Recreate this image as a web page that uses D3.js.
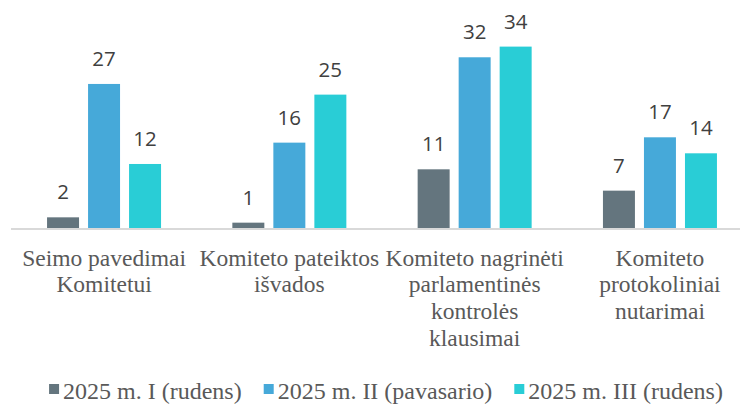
<!DOCTYPE html>
<html>
<head>
<meta charset="utf-8">
<script src="https://cdn.jsdelivr.net/npm/d3@7"></script>
<style>
  html, body { margin: 0; padding: 0; background: #fff; }
  svg { display: block; }
</style>
</head>
<body>
<svg id="chart" width="740" height="405"></svg>
<script>
const categories = [
  "Seimo pavedimai Komitetui",
  "Komiteto pateiktos išvados",
  "Komiteto nagrinėti parlamentinės kontrolės klausimai",
  "Komiteto protokoliniai nutarimai"
];
const categoryLines = [
  ["Seimo pavedimai", "Komitetui"],
  ["Komiteto pateiktos", "išvados"],
  ["Komiteto nagrinėti", "parlamentinės", "kontrolės", "klausimai"],
  ["Komiteto", "protokoliniai", "nutarimai"]
];
const seriesNames = ["2025 m. I (rudens)", "2025 m. II (pavasario)", "2025 m. III (rudens)"];
const seriesI   = [2, 1, 11, 7];
const seriesII  = [27, 16, 32, 17];
const seriesIII = [12, 25, 34, 14];
const seriesValues = [seriesI, seriesII, seriesIII];
const colors = ["#64757e", "#46a9d9", "#29cdd6"];

const svg = d3.select("#chart");

const baseY = 228;
const y = d3.scaleLinear().domain([0, 35]).range([baseY, baseY - 35 * 5.335]);
const x0 = d3.scaleBand().domain(categories).range([11.4, 752.6]).padding(0);
const groupW = 114;
const x1 = d3.scaleBand().domain(seriesNames).range([0, groupW]).paddingInner(0.22).paddingOuter(0);
const offset = (x0.bandwidth() - groupW) / 2;

// axis line
svg.append("line")
  .attr("x1", 11).attr("x2", 740)
  .attr("y1", baseY + 1).attr("y2", baseY + 1)
  .attr("stroke", "#d9d9d9").attr("stroke-width", 2);

const groups = svg.selectAll("g.grp")
  .data(categories)
  .enter().append("g")
  .attr("class", "grp")
  .attr("transform", d => `translate(${x0(d) + offset},0)`);

groups.each(function(cat, ci) {
  const g = d3.select(this);
  seriesNames.forEach((s, si) => {
    const v = seriesValues[si][ci];
    g.append("rect")
      .attr("x", x1(s))
      .attr("y", y(v))
      .attr("width", x1.bandwidth())
      .attr("height", y(0) - y(v))
      .attr("fill", colors[si]);
    g.append("text")
      .attr("x", x1(s) + x1.bandwidth() / 2)
      .attr("y", y(v) - 18)
      .attr("text-anchor", "middle")
      .attr("font-family", "'Open Sans', sans-serif")
      .attr("font-size", "20.5px")
      .attr("fill", "#404040")
      .text(v);
  });
});

// category labels
categories.forEach((cat, ci) => {
  const cx = x0(cat) + x0.bandwidth() / 2;
  const t = svg.append("text")
    .attr("text-anchor", "middle")
    .attr("font-family", "'Liberation Serif', 'Times New Roman', serif")
    .attr("font-size", "23.5px")
    .attr("fill", "#595959");
  categoryLines[ci].forEach((ln, li) => {
    t.append("tspan").attr("x", cx).attr("y", 265.7 + li * 26.6).text(ln);
  });
});

// legend
const legend = svg.append("g");
let lx = 0;
seriesNames.forEach((s, si) => {
  const item = legend.append("g").attr("transform", `translate(${lx},0)`);
  item.append("rect").attr("x", 0).attr("y", 384).attr("width", 10).attr("height", 10).attr("fill", colors[si]);
  const tx = item.append("text")
    .attr("x", 14).attr("y", 399)
    .attr("font-family", "'Liberation Serif', 'Times New Roman', serif")
    .attr("font-size", "24px")
    .attr("fill", "#595959")
    .text(s);
  const w = tx.node().getComputedTextLength();
  lx += 14 + w + 22;
});
const totalW = lx - 22;
legend.attr("transform", `translate(${386 - totalW / 2},0)`);
</script>
</body>
</html>
